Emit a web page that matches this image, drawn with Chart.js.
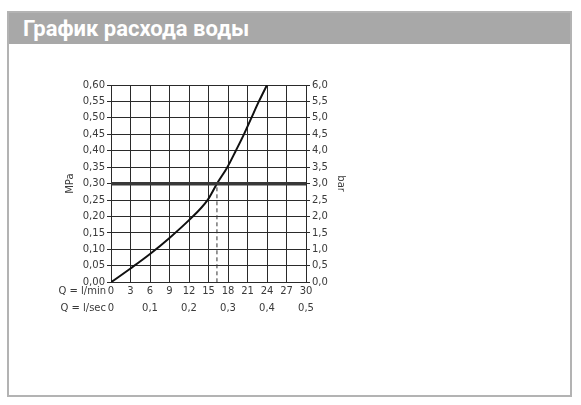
<!DOCTYPE html>
<html>
<head>
<meta charset="utf-8">
<script src="https://cdn.jsdelivr.net/npm/chart.js@4.4.1/dist/chart.umd.min.js"></script>
<style>
  html, body { margin: 0; padding: 0; background: #ffffff; width: 581px; height: 405px; overflow: hidden; }
  #box { position: absolute; left: 7px; top: 11px; width: 565px; height: 386px; box-sizing: border-box;
         border: 2px solid #b3b3b3; background: #fff; }
  #hdr { position: absolute; left: 0; top: 0; right: 0; height: 31px; background: #a8a8a8;
         color: #fff; font-family: Roboto, "Liberation Sans", sans-serif; font-weight: bold;
         font-size: 22px; line-height: 31px; padding-left: 14px; box-sizing: border-box; }
  #wrap { position: absolute; left: 0; top: 45px; width: 581px; height: 340px; }
</style>
</head>
<body>
<div id="box"><div id="hdr">График расхода воды</div></div>
<div id="wrap"><canvas id="c"></canvas></div>
<script>
// ---- data ----
const flowLpm     = [0, 3, 6, 9, 12, 14.85, 16.3, 17.9, 19.2, 20.45, 21.6, 22.75, 24];
const pressureMPa = [0, 0.042, 0.086, 0.135, 0.189, 0.25, 0.30, 0.35, 0.40, 0.45, 0.50, 0.55, 0.60];
const refPressure = 0.30;          // thick horizontal line (MPa)
const refFlow     = 16.3;          // dashed vertical line (l/min)
const xMinLabel   = 'Q = l/min';
const xSecLabel   = 'Q = l/sec';
const leftTitle   = 'MPa';
const rightTitle  = 'bar';

const FONT = { family: '"DejaVu Sans", sans-serif', size: 10 };
const TXT = '#3a3a3a';
const GRID = '#2a2a2a';

const curve = flowLpm.map((x, i) => ({ x: x, y: pressureMPa[i] }));
const hLine = [{ x: 0, y: refPressure }, { x: 30, y: refPressure }];
const vLine = [{ x: refFlow, y: 0 }, { x: refFlow, y: refPressure }];

const comma = (v, d) => v.toFixed(d).replace('.', ',');

const rowLabels = {
  id: 'rowLabels',
  afterDraw(chart) {
    const ctx = chart.ctx;
    ctx.save();
    ctx.font = FONT.size + 'px ' + FONT.family;
    ctx.fillStyle = TXT;
    ctx.textAlign = 'right';
    ctx.textBaseline = 'middle';
    const left = chart.chartArea.left;
    const sx = chart.scales.x, s2 = chart.scales.x2;
    ctx.fillText(xMinLabel, left - 5, sx.top + 3 + FONT.size * 0.6);
    ctx.fillText(xSecLabel, left - 5, s2.top + 3 + FONT.size * 0.6);
    ctx.restore();
  }
};

new Chart(document.getElementById('c'), {
  type: 'line',
  data: {
    datasets: [
      { data: hLine, borderColor: '#383838', borderWidth: 3.5, pointRadius: 0, xAxisID: 'x', yAxisID: 'y' },
      { data: vLine, borderColor: '#333', borderWidth: 1, borderDash: [4, 3], pointRadius: 0, xAxisID: 'x', yAxisID: 'y' },
      { data: curve, borderColor: '#111', borderWidth: 2, pointRadius: 0,
        cubicInterpolationMode: 'monotone', xAxisID: 'x', yAxisID: 'y' }
    ]
  },
  options: {
    responsive: true,
    maintainAspectRatio: false,
    animation: false,
    events: [],
    layout: { padding: { left: 62, right: 232, top: 40, bottom: 0 } },
    plugins: { legend: { display: false }, tooltip: { enabled: false }, title: { display: false } },
    scales: {
      x: {
        type: 'linear', position: 'bottom', min: 0, max: 30,
        ticks: { stepSize: 3, color: TXT, font: FONT, padding: 3, maxRotation: 0, autoSkip: false },
        grid: { color: GRID, lineWidth: 1, drawTicks: false },
        border: { display: true, color: GRID, width: 1 },
        afterFit(s) { s.height = 17; }
      },
      x2: {
        type: 'linear', position: 'bottom', min: 0, max: 0.5,
        ticks: { stepSize: 0.1, color: TXT, font: FONT, padding: 3, maxRotation: 0, autoSkip: false,
                 callback: v => Math.abs(v) < 1e-9 ? '0' : comma(v, 1) },
        grid: { display: false, drawTicks: false },
        border: { display: false },
        afterFit(s) { s.height = 85.7; }
      },
      y: {
        type: 'linear', position: 'left', min: 0, max: 0.6,
        ticks: { stepSize: 0.05, color: TXT, font: FONT, padding: 2, autoSkip: false,
                 callback: v => comma(v, 2) },
        grid: { color: GRID, lineWidth: 1, tickLength: 4 },
        border: { display: true, color: GRID, width: 1 },
        title: { display: true, text: leftTitle, color: TXT, font: FONT, padding: { top: 2, bottom: 0 } },
        afterFit(s) { s.width = 49; }
      },
      y2: {
        type: 'linear', position: 'right', min: 0, max: 6,
        ticks: { stepSize: 0.5, color: TXT, font: FONT, padding: 2, autoSkip: false,
                 callback: v => comma(v, 1) },
        grid: { drawOnChartArea: false, color: GRID, lineWidth: 1, tickLength: 4 },
        border: { display: true, color: GRID, width: 1 },
        title: { display: true, text: rightTitle, color: TXT, font: FONT, padding: { top: 2, bottom: 0 } },
        afterFit(s) { s.width = 43; }
      }
    }
  },
  plugins: [rowLabels]
});
</script>
</body>
</html>
